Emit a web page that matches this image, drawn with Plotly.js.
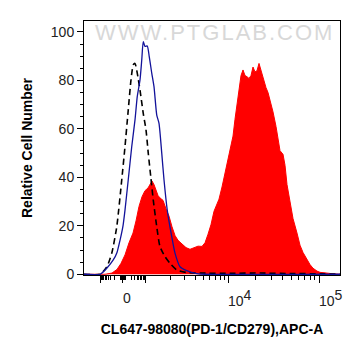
<!DOCTYPE html>
<html>
<head>
<meta charset="utf-8">
<script src="https://cdn.plot.ly/plotly-3.0.1.min.js"></script>
<style>
html,body{margin:0;padding:0;background:#fff;}
#chart{width:361px;height:356px;}
</style>
</head>
<body>
<div id="chart"></div>
<script>
// ---- Data (x in display channel units 0..1024 of a biexponential axis) ----
const sampleX = [0,84,112,132,148,164,180,196,208,220,232,244,256,264,272,280,288,296,304,316,328,340,352,364,376,392,408,424,440,456,472,484,496,508,520,532,540,552,564,576,588,596,604,612,620,628,636,644,652,660,668,676,684,692,700,708,716,728,736,744,756,768,776,784,796,804,812,824,836,852,864,876,891,904,916,932,944,972,996,1024];
const sampleY = [0,0,0.5,2,4.5,8,13,17,22,28,32,34.5,35.6,37,38.5,37,34.5,32.5,31.5,30.5,27,24,19.6,16,14,12.5,11,10.3,10.8,11.6,11.5,13,16.5,20.5,26,29.5,31,36,41.8,48,54,57,64,70,77,82,84.3,82,81.5,80.8,82,85.5,83.5,84,87,84,81.5,77,75,72,67,61,55,51,49.5,45,37,30,23,17,12,9,6,4,2.5,1.3,0.8,0.4,0.2,0];

const isotypeX = [0,64,91,117,132,144,156,164,177,191,204,213,224,231,237,244,253,261,271,280,291,300,311,320,333,351,364,384,411,451,484,1024];
const isotypeY = [0,0,2.5,5.9,9,14,20,26.5,39,52.7,63.7,73.3,80.2,88.4,96,94,94.2,89.8,83,77.4,65.7,62.3,50,39,26.5,15.5,8.7,3.1,1.5,0.3,0,0];

const blankX = [0,64,91,111,131,151,164,177,188,197,204,213,224,237,248,257,267,277,291,304,324,344,371,411,464,584,704,824,944,1024];
const blankY = [0,0,3,8.7,19.6,39,52.7,67.8,80.2,86.4,87,83,76,66.4,59.6,50,40.3,30.7,19.6,11.4,7.3,4.5,1.8,0.7,0.5,0.4,0.5,0.3,0.2,0];

// ---- Axis ticks ----
const majorTickValues = [-1000, 0, 1000, 10000, 100000];
const minorTickValues = [-900,-800,-700,-600,-500,-400,-300,-200,-100,-90,-80,-70,-60,-50,-40,-30,-20,-10,
  10,20,30,40,50,60,70,80,90,100,200,300,400,500,600,700,800,900,
  2000,3000,4000,5000,6000,7000,8000,9000,
  20000,30000,40000,50000,60000,70000,80000,90000];
const labelValues = [0, 10000, 100000];
const labelBase = ['0', '10', '10'];
const labelExp = ['', '4', '5'];
const yTickValues = [0, 20, 40, 60, 80, 100];

// biexponential-like display transform (value -> channel)
function toChannel(v) {
  const a = Math.abs(v);
  if (v === 0) return 154;
  if (v > 0) {
    if (a <= 100) return 154 + 10 * a / 100;
    if (a <= 1000) return 164 + 80 * Math.log10(a / 100);
    if (a <= 10000) return 244 + 333 * Math.log10(a / 1000);
    return 577 + 363 * Math.log10(a / 10000);
  } else {
    if (a <= 100) return 154 - 10 * a / 100;
    if (a <= 1000) return 144 - 77 * Math.log10(a / 100);
    return 67 - 87 * Math.log10(a / 1000);
  }
}

const FONT = 'Arial, "Liberation Sans", sans-serif';

const traces = [
  {x: sampleX, y: sampleY, type: 'scatter', mode: 'lines', fill: 'tozeroy',
   fillcolor: '#ff0000', line: {color: '#ff0000', width: 1}, hoverinfo: 'skip'},
  {x: blankX, y: blankY, type: 'scatter', mode: 'lines',
   line: {color: '#000000', width: 1.6, dash: '6px,4px', shape: 'spline', smoothing: 0.6}, hoverinfo: 'skip'},
  {x: isotypeX, y: isotypeY, type: 'scatter', mode: 'lines',
   line: {color: '#12129a', width: 1.3, shape: 'spline', smoothing: 0.6}, hoverinfo: 'skip'}
];

const annotations = labelValues.map((v, i) => ({
  x: toChannel(v), xref: 'x', y: -0.09, yref: 'paper',
  text: labelExp[i] ? labelBase[i] + '<sup><span style="font-size:14px">' + labelExp[i] + '</span></sup>' : labelBase[i],
  showarrow: false, xanchor: 'left', yanchor: 'middle', xshift: -2,
  font: {family: FONT, size: 14, color: '#222'}
}));
annotations.push({
  x: 0.508, xref: 'paper', y: 0.953, yref: 'paper', text: 'WWW.PTGLAB.COM',
  showarrow: false, xanchor: 'center', yanchor: 'middle',
  font: {family: FONT, size: 22, color: '#d8d8d8'}
});

const layout = {
  width: 361, height: 356,
  margin: {l: 84, r: 21, t: 21, b: 81, pad: 0},
  paper_bgcolor: '#fff', plot_bgcolor: '#fff',
  showlegend: false,
  xaxis: {
    range: [0, 1024], showgrid: false, zeroline: false,
    showline: true, mirror: true, linecolor: '#000', linewidth: 1,
    tickmode: 'array', tickvals: majorTickValues.map(toChannel), showticklabels: false,
    ticks: 'outside', ticklen: 7, tickwidth: 1, tickcolor: '#000',
    minor: {tickmode: 'array', tickvals: minorTickValues.map(toChannel), ticks: 'outside', ticklen: 4, tickwidth: 1, tickcolor: '#000'},
    title: {text: 'CL647-98080(PD-1/CD279),APC-A', font: {family: FONT, size: 14, color: '#000', weight: 'bold'}, standoff: 42},
    fixedrange: true
  },
  yaxis: {
    range: [-0.3, 104.5], showgrid: false, zeroline: false,
    showline: true, mirror: true, linecolor: '#000', linewidth: 1,
    tickmode: 'array', tickvals: yTickValues,
    ticks: 'outside', ticklen: 6, tickwidth: 1, tickcolor: '#000',
    tickfont: {family: FONT, size: 14, color: '#222'},
    minor: {dtick: 5, ticks: 'outside', ticklen: 3, tickwidth: 1, tickcolor: '#000'},
    title: {text: 'Relative Cell Number', font: {family: FONT, size: 14, color: '#000', weight: 'bold'}, standoff: 14},
    fixedrange: true
  },
  annotations: annotations
};

Plotly.newPlot('chart', traces, layout, {displayModeBar: false, staticPlot: true}).then(() => {
  document.querySelectorAll('.annotation-text').forEach(t => {
    if (t.textContent === 'WWW.PTGLAB.COM') t.style.letterSpacing = '2px';
  });
});
</script>
</body>
</html>
